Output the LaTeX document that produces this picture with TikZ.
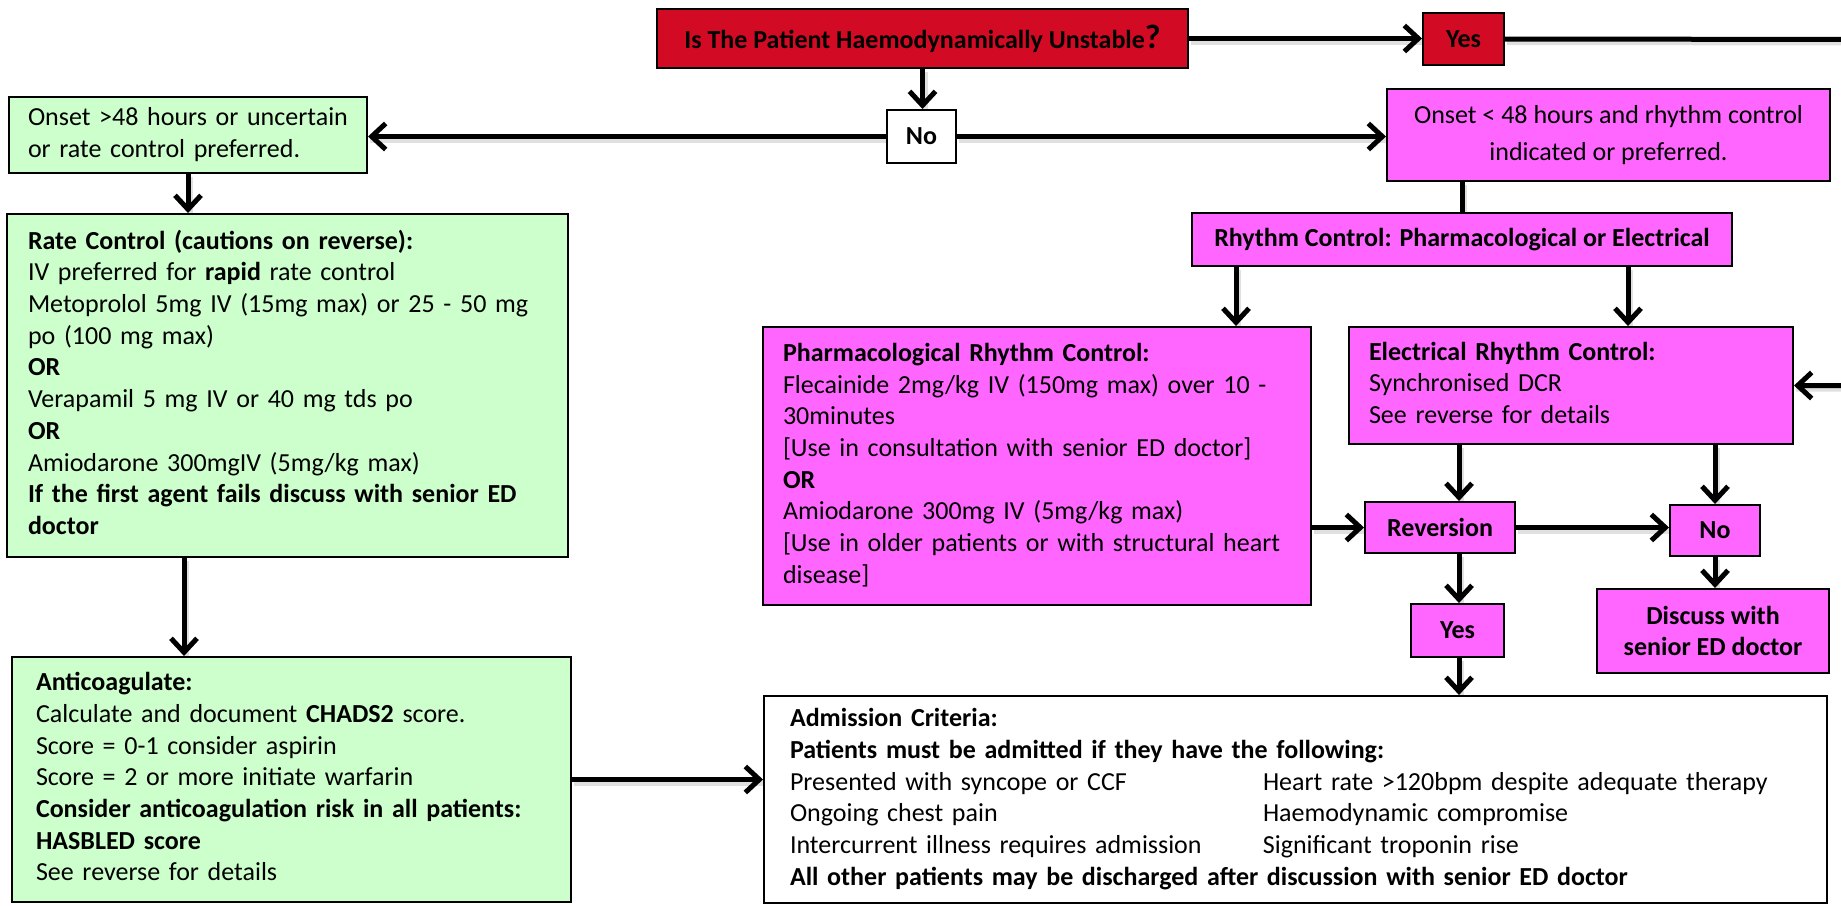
\documentclass[tikz,border=0pt]{standalone}
\usepackage{fontspec}
\setmainfont{Carlito}
\usetikzlibrary{arrows.meta,backgrounds}
\definecolor{redbox}{RGB}{210,10,35}
\definecolor{magbox}{RGB}{255,102,255}
\definecolor{greenbox}{RGB}{204,255,204}
\begin{document}
\begin{tikzpicture}[x=1pt,y=-1pt,
  base/.style={draw=black, line width=2pt, inner sep=0pt, font=\fontsize{26}{31.7}\selectfont},
  rbox/.style={base, fill=redbox},
  gbox/.style={base, fill=greenbox},
  mbox/.style={base, fill=magbox},
  wbox/.style={base, fill=white},
  btxt/.style={font=\fontsize{26}{31.7}\selectfont\bfseries, align=center},
  conn/.style={line width=5pt, preaction={draw=black!12, line width=6pt, -, transform canvas={shift={(2pt,-3pt)}}}},
  arr/.style={conn, -{Straight Barb[length=14pt,width=26pt]}}]
\useasboundingbox (0,0) rectangle (1841,905);
\clip (0,0) rectangle (1841,905);

\node[rbox, btxt, minimum width=531pt, minimum height=59pt] (q) at (922.5,38.5) {Is The Patient Haemodynamically Unstable{\fontsize{34}{34}\selectfont ?}};
\node[rbox, btxt, minimum width=81pt, minimum height=52pt] (yesR) at (1463.5,39) {Yes};
\node[wbox, btxt, minimum width=69pt, minimum height=53pt] (noW) at (921.5,136.5) {No};
\node[gbox, minimum width=358pt, minimum height=76pt, text width=320pt] (g1) at (188,135) {\begin{tabular}{@{}l@{}}Onset >48 hours or uncertain\\or rate control preferred.\end{tabular}};
\node[mbox, minimum width=443pt, minimum height=92pt, align=center, font=\fontsize{26}{37}\selectfont] (m1) at (1608.5,135) {Onset < 48 hours and rhythm control\\indicated or preferred.};
\node[mbox, btxt, minimum width=540pt, minimum height=53pt] (rhy) at (1462,239.5) {Rhythm Control: Pharmacological or Electrical};
\node[mbox, minimum width=548pt, minimum height=278pt, text width=508pt] (ph) at (1037,466) {\begin{tabular}{@{}l@{}}\textbf{Pharmacological Rhythm Control:}\\Flecainide 2mg/kg IV (150mg max) over 10 -\\30minutes\\{[}Use in consultation with senior ED doctor{]}\\\textbf{OR}\\Amiodarone 300mg IV (5mg/kg max)\\{[}Use in older patients or with structural heart\\disease{]}\end{tabular}};
\node[mbox, minimum width=444pt, minimum height=117pt, text width=404pt] (el) at (1571,385.5) {\begin{tabular}{@{}l@{}}\textbf{Electrical Rhythm Control:}\\Synchronised DCR\\See reverse for details\end{tabular}};
\node[mbox, btxt, minimum width=150pt, minimum height=51pt] (rev) at (1440,527.5) {Reversion};
\node[mbox, btxt, minimum width=90pt, minimum height=51pt] (noM) at (1715,530.5) {No};
\node[mbox, btxt, minimum width=232pt, minimum height=84pt] (disc) at (1713,631) {Discuss with\\senior ED doctor};
\node[mbox, btxt, minimum width=93pt, minimum height=53pt] (yesM) at (1457.5,630.5) {Yes};
\node[gbox, minimum width=561pt, minimum height=343pt, text width=519pt] (rate) at (287.5,385.5) {\begin{tabular}{@{}l@{}}\textbf{Rate Control (cautions on reverse):}\\IV preferred for \textbf{rapid} rate control\\Metoprolol 5mg IV (15mg max) or 25 - 50 mg\\po (100 mg max)\\\textbf{OR}\\Verapamil 5 mg IV or 40 mg tds po\\\textbf{OR}\\Amiodarone 300mgIV (5mg/kg max)\\\textbf{If the first agent fails discuss with senior ED}\\\textbf{doctor}\end{tabular}};
\node[gbox, minimum width=559pt, minimum height=245pt, text width=511pt] (anti) at (291.5,779.5) {\begin{tabular}{@{}l@{}}\textbf{Anticoagulate:}\\Calculate and document \textbf{CHADS2} score.\\Score = 0-1 consider aspirin\\Score = 2 or more initiate warfarin\\\textbf{Consider anticoagulation risk in all patients:}\\\textbf{HASBLED score}\\See reverse for details\end{tabular}};
\node[wbox, minimum width=1063pt, minimum height=207pt, text width=1011pt] (adm) at (1295.5,799.5) {\begin{tabular}{@{}l@{}}\textbf{Admission Criteria:}\\\textbf{Patients must be admitted if they have the following:}\\\makebox[473pt][l]{Presented with syncope or CCF}Heart rate >120bpm despite adequate therapy\\\makebox[473pt][l]{Ongoing chest pain}Haemodynamic compromise\\\makebox[473pt][l]{Intercurrent illness requires admission}Significant troponin rise\\\textbf{All other patients may be discharged after discussion with senior ED doctor}\end{tabular}};

\coordinate (cx1) at (1459,0);
\coordinate (cx2) at (1236,0);
\coordinate (cx3) at (1628,0);
\coordinate (cx4) at (184,0);
\coordinate (offR) at (1880,39.5);

\begin{pgfonlayer}{background}
\draw[arr] (q.east) -- (yesR.west |- q.east);
\draw[arr] (yesR.east) -- (offR) |- (el.east);
\draw[arr] (q.south) -- (noW.north -| q.south);
\draw[arr] (noW.west) -- (g1.east |- noW.west);
\draw[arr] (noW.east) -- (m1.west |- noW.east);
\draw[conn] (m1.south -| rhy.north) -- (rhy.north);
\draw[arr] (rhy.south -| cx2) -- (ph.north -| cx2);
\draw[arr] (rhy.south -| cx3) -- (el.north -| cx3);
\draw[arr] (g1.south) -- (rate.north -| g1.south);
\draw[arr] (rate.south -| cx4) -- (anti.north -| cx4);
\draw[arr] (anti.east) -- (adm.west |- anti.east);
\draw[arr] (ph.east |- rev.west) -- (rev.west);
\draw[arr] (el.south -| cx1) -- (rev.north -| cx1);
\draw[arr] (el.south -| noM.north) -- (noM.north);
\draw[arr] (rev.east) -- (noM.west |- rev.east);
\draw[arr] (noM.south) -- (disc.north -| noM.south);
\draw[arr] (rev.south -| cx1) -- (yesM.north -| cx1);
\draw[arr] (yesM.south -| cx1) -- (adm.north -| cx1);
\end{pgfonlayer}
\end{tikzpicture}
\end{document}
